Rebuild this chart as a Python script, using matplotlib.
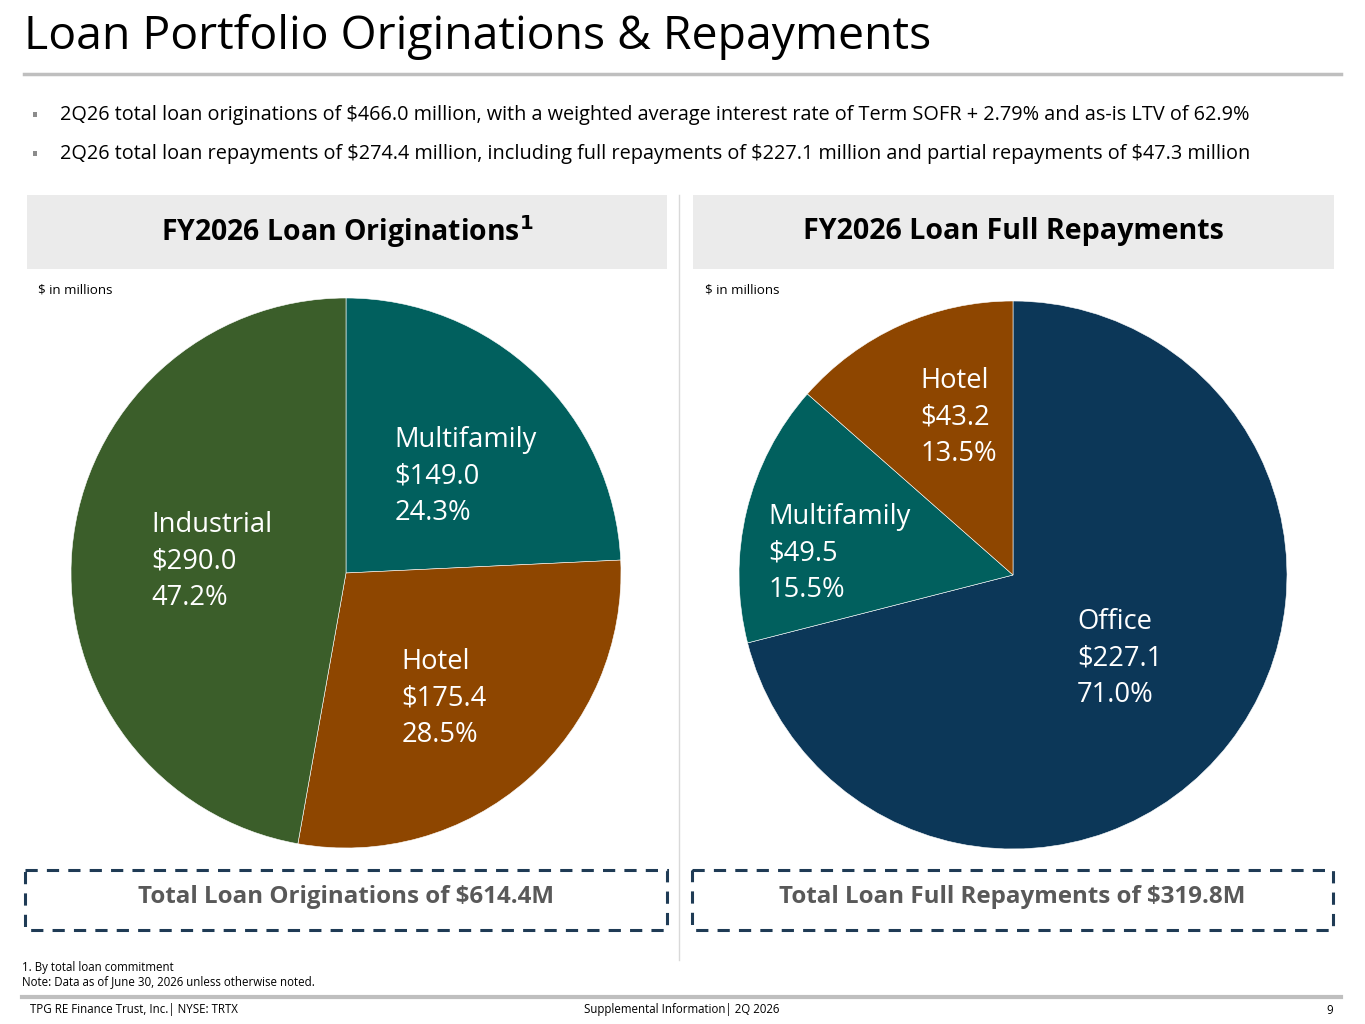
import matplotlib.pyplot as plt
from matplotlib.patches import Rectangle

plt.rcParams['font.family'] = ['Open Sans', 'DejaVu Sans']

# data
orig_labels = ['Multifamily', 'Hotel', 'Industrial']
orig_values = [149.0, 175.4, 290.0]
orig_pcts = ['24.3%', '28.5%', '47.2%']
rep_labels = ['Office', 'Multifamily', 'Hotel']
rep_values = [227.1, 49.5, 43.2]
rep_pcts = ['71.0%', '15.5%', '13.5%']

colors = {'Multifamily': '#01605E', 'Hotel': '#8E4600',
          'Industrial': '#3B5E2A', 'Office': '#0C3758'}

title = 'Loan Portfolio Originations & Repayments'
bullets = ['2Q26 total loan originations of $466.0 million, with a weighted average interest rate of Term SOFR + 2.79% and as-is LTV of 62.9%',
           '2Q26 total loan repayments of $274.4 million, including full repayments of $227.1 million and partial repayments of $47.3 million']

W, H = 1365, 1024
fig = plt.figure(figsize=(W / 100, H / 100), dpi=100)
bg = fig.add_axes([0, 0, 1, 1])
bg.set_xlim(0, W)
bg.set_ylim(H, 0)
bg.axis('off')

# title and rules
bg.text(24, 37, title, fontsize=33.4, va='center', ha='left', color='#000000')
bg.plot([24, 1341], [74, 74], color='#BFBFBF', lw=2.5)
for yy, t in zip([115, 154], bullets):
    bg.add_patch(Rectangle((33, yy - 3), 4, 5, color='#8C8C8C', lw=0))
    bg.text(60, yy, t, fontsize=14.3, va='center', ha='left', color='#000000')

# header boxes
bg.add_patch(Rectangle((27, 195), 640, 74, color='#EBEBEB', lw=0))
bg.add_patch(Rectangle((693, 195), 641, 74, color='#EBEBEB', lw=0))
bg.text(347, 232, r'FY2026 Loan Originations$^{\mathbf{1}}$', fontsize=20.4, fontweight='bold',
        ha='center', va='center', color='#000000')
bg.text(1013, 232, 'FY2026 Loan Full Repayments', fontsize=20.6, fontweight='bold',
        ha='center', va='center', color='#000000')
bg.plot([679, 679], [195, 960], color='#D9D9D9', lw=1)
bg.text(38, 290, '$ in millions', fontsize=9.6, ha='left', va='center')
bg.text(705, 290, '$ in millions', fontsize=9.6, ha='left', va='center')

# dashed total boxes
for x0, x1, t in [(25, 667, 'Total Loan Originations of $614.4M'),
                  (692, 1333, 'Total Loan Full Repayments of $319.8M')]:
    bg.add_patch(Rectangle((x0, 870), x1 - x0, 60, fill=False, ec='#1F3B55',
                           lw=2.2, ls=(0, (4, 3))))
    bg.text((x0 + x1) / 2, 897, t, fontsize=17.4, fontweight='bold', color='#595959',
            ha='center', va='center')

# footnotes and footer
bg.text(22, 968, '1. By total loan commitment', fontsize=8.3, va='center')
bg.text(22, 982, 'Note: Data as of June 30, 2026 unless otherwise noted.', fontsize=8.3, va='center')
bg.plot([22, 1341], [997, 997], color='#BFBFBF', lw=3)
bg.text(30, 1010, 'TPG RE Finance Trust, Inc.| NYSE: TRTX', fontsize=8.3, va='center')
bg.text(682, 1010, 'Supplemental Information| 2Q 2026', fontsize=8.3, va='center', ha='center')
bg.text(1333, 1010, '9', fontsize=8.3, va='center', ha='right')


def draw_pie(cx, cy, r, labels, values, pcts, pos):
    ax = fig.add_axes([(cx - r) / W, (H - cy - r) / H, 2 * r / W, 2 * r / H])
    ax.pie(values, colors=[colors[l] for l in labels], startangle=90, counterclock=False,
           radius=1, wedgeprops=dict(edgecolor='white', linewidth=0.4))
    ax.set_xlim(-1, 1)
    ax.set_ylim(-1, 1)
    ax.set_aspect('equal')
    ax.axis('off')
    for l, v, p, (x, y) in zip(labels, values, pcts, pos):
        ax.text(x, y, f'{l}\n${v:.1f}\n{p}', color='white', fontsize=19.7,
                ha='left', va='center', linespacing=1.4)


draw_pie(346, 573, 275, orig_labels, orig_values, orig_pcts,
         [(0.175, 0.352), (0.201, -0.455), (-0.708, 0.042)])
draw_pie(1013, 575, 274, rep_labels, rep_values, rep_pcts,
         [(0.234, -0.305), (-0.894, 0.078), (-0.339, 0.575)])

fig.savefig('out.png', dpi=100)
